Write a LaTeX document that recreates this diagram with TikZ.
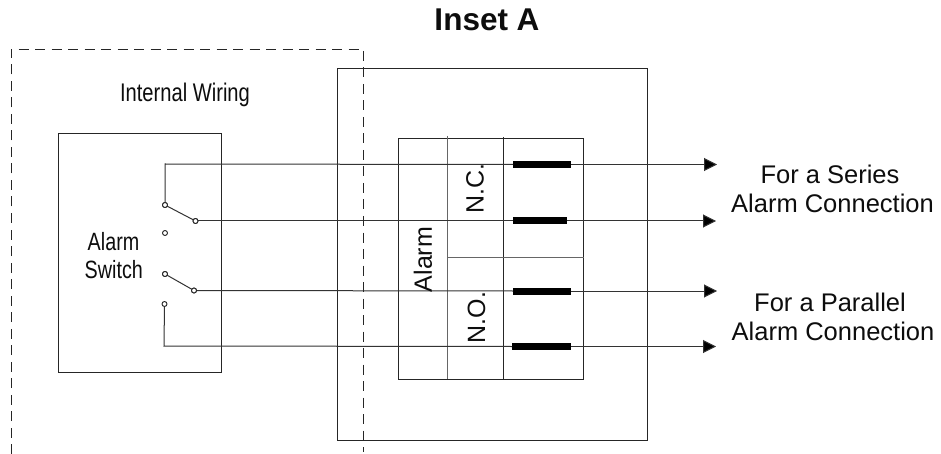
\documentclass[tikz,border=0pt]{standalone}
\usepackage{fontspec}
\setmainfont{Liberation Sans}
\newfontfamily\narrowfont[FakeStretch=0.79]{Liberation Sans}
\usetikzlibrary{arrows.meta}
\tikzset{
  x=1pt,y=-1pt,
  box/.style={draw=black!85,line width=1pt},
  grayline/.style={draw=black!60,line width=1pt},
  wire/.style={draw=black!80,line width=1pt},
  dash line/.style={draw=black!85,line width=0.9pt,dash pattern=on 10pt off 6.5pt},
  arrowwire/.style={wire,-{Triangle[length=13pt,width=13pt,fill=black]}},
  bar/.style={draw=none,fill=black,minimum height=7pt,inner sep=0pt,outer sep=0pt},
  contact/.style={circle,draw=black!85,fill=white,line width=0.9pt,minimum size=5pt,inner sep=0pt,outer sep=0pt},
  lbl/.style={inner sep=0pt,align=center,text=black!95},
  rotlbl/.style={lbl,rotate=90,font=\fontsize{25}{28}\selectfont},
  sidelbl/.style={lbl,font=\fontsize{25.5}{28.7}\selectfont},
}
\begin{document}
\begin{tikzpicture}
\useasboundingbox (0,0) rectangle (941,454);
% coordinates
\coordinate (dA) at (11,454);
\coordinate (dB) at (11,49);
\coordinate (dC) at (363,49);
\coordinate (dD) at (363,452);
% boxes
\draw[box] (337,69) rectangle (647,440);
\draw[box] (58,134) rectangle (221,372);
\draw[box] (398,139) rectangle (583,379);
\coordinate (t1) at (447,136); \coordinate (t2) at (447,379);
\coordinate (u1) at (503,137); \coordinate (u2) at (503,379);
\coordinate (h1) at (447,257); \coordinate (h2) at (584,257);
\draw[grayline] (t1) -- (t2);
\draw[box] (u1) -- (u2);
\draw[grayline] (h1) -- (h2);
% contacts
\node[contact] (c1) at (165,205) {};
\node[contact] (c2) at (195.5,221) {};
\node[contact] (c3) at (165,233) {};
\node[contact] (c4) at (165,274) {};
\node[contact] (c5) at (194,290.5) {};
\node[contact] (c6) at (164.5,304) {};
% bars
\node[bar,minimum width=58pt] (b1) at (542,164.5) {};
\node[bar,minimum width=54pt] (b2) at (539.5,221) {};
\node[bar,minimum width=58pt] (b3) at (542,291) {};
\node[bar,minimum width=59pt] (b4) at (541.5,346.5) {};
% arrow ends
\coordinate (e1) at (717,164.5);
\coordinate (e2) at (716,221);
\coordinate (e3) at (717,291);
\coordinate (e4) at (716,346.5);
\coordinate (k1) at (165,164);
\coordinate (k4) at (164,346);
% wires
\draw[wire] (c1) -- (k1) -- (b1.west);
\draw[wire] (c2) -- (b2.west);
\draw[wire] (c5) -- (b3.west);
\draw[wire] (c6) -- (k4) -- (b4.west);
\draw[arrowwire] (b1.east) -- (e1);
\draw[arrowwire] (b2.east) -- (e2);
\draw[arrowwire] (b3.east) -- (e3);
\draw[arrowwire] (b4.east) -- (e4);
% switch blades
\draw[wire] (c1) -- (c2);
\draw[wire] (c4) -- (c5);
\node[contact] at (c1) {};
\node[contact] at (c2) {};
\node[contact] at (c4) {};
\node[contact] at (c5) {};
% dashed
\draw[dash line] (dA) -- (dB) -- (dC) -- (dD);
% text
\node[lbl,font=\bfseries\fontsize{31.5}{34}\selectfont] (title) at (487,20) {Inset A};
\node[lbl,anchor=base,font=\narrowfont\fontsize{25.5}{28}\selectfont] (iw) at (185,101.7) {Internal Wiring};
\node[lbl,anchor=base,font=\narrowfont\fontsize{25}{27.7}\selectfont] (as1) at (113.5,250.7) {Alarm};
\node[lbl,anchor=base,font=\narrowfont\fontsize{25}{27.7}\selectfont] (as2) at (113.8,278.3) {Switch};
\node[rotlbl] (al) at (423,259.5) {Alarm};
\node[rotlbl] (nc) at (475,189) {N.C.};
\node[rotlbl] (no) at (476.5,317.5) {N.O.};
\node[sidelbl,anchor=base] (s1a) at (830,184) {For a Series};
\node[sidelbl,anchor=base] (s1b) at (832.5,212.7) {Alarm Connection};
\node[sidelbl,anchor=base] (s2a) at (830,311) {For a Parallel};
\node[sidelbl,anchor=base] (s2b) at (833,340) {Alarm Connection};
\end{tikzpicture}
\end{document}
